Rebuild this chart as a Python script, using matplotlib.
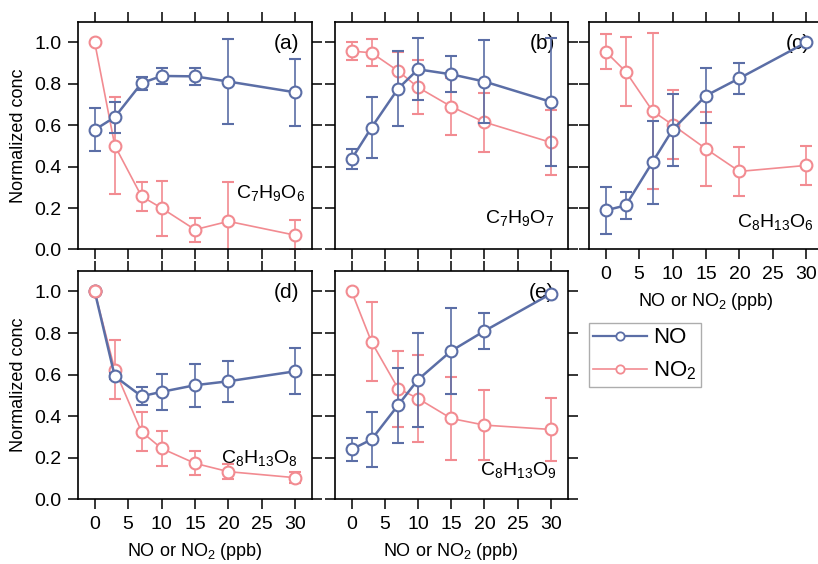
import matplotlib
matplotlib.use("Agg")
import matplotlib.pyplot as plt
from matplotlib.lines import Line2D

plt.rcParams['font.family'] = ['Liberation Sans', 'DejaVu Sans']
plt.rcParams['mathtext.default'] = 'regular'

# NO / NO2 mixing ratios (ppb)
conc = [0, 3, 7, 10, 15, 20, 30]

panel_tags = ['(a)', '(b)', '(c)', '(d)', '(e)']
species = ['C$_7$H$_9$O$_6$', 'C$_7$H$_9$O$_7$', 'C$_8$H$_{13}$O$_6$',
           'C$_8$H$_{13}$O$_8$', 'C$_8$H$_{13}$O$_9$']

# normalized concentration, NO experiments
no_a = [0.578, 0.639, 0.803, 0.838, 0.836, 0.811, 0.759]
no_a_err = [0.104, 0.075, 0.032, 0.037, 0.040, 0.205, 0.163]
no_b = [0.437, 0.589, 0.777, 0.870, 0.846, 0.811, 0.713]
no_b_err = [0.050, 0.149, 0.183, 0.150, 0.087, 0.200, 0.310]
no_c = [0.189, 0.213, 0.422, 0.578, 0.743, 0.827, 1.0]
no_c_err = [0.115, 0.066, 0.200, 0.173, 0.133, 0.074, 0.005]
no_d = [1.0, 0.592, 0.496, 0.517, 0.549, 0.568, 0.616]
no_d_err = [0.005, 0.015, 0.043, 0.088, 0.104, 0.098, 0.110]
no_e = [0.240, 0.288, 0.453, 0.576, 0.714, 0.810, 0.989]
no_e_err = [0.055, 0.132, 0.180, 0.226, 0.207, 0.088, 0.005]

# normalized concentration, NO2 experiments
no2_a = [1.0, 0.502, 0.257, 0.200, 0.096, 0.136, 0.069]
no2_a_err = [0.008, 0.235, 0.070, 0.133, 0.058, 0.190, 0.072]
no2_b = [0.958, 0.950, 0.862, 0.783, 0.690, 0.615, 0.517]
no2_b_err = [0.042, 0.065, 0.090, 0.130, 0.139, 0.142, 0.158]
no2_c = [0.955, 0.859, 0.669, 0.602, 0.486, 0.377, 0.406]
no2_c_err = [0.085, 0.168, 0.377, 0.167, 0.177, 0.120, 0.093]
no2_d = [1.0, 0.624, 0.325, 0.245, 0.173, 0.133, 0.104]
no2_d_err = [0.008, 0.143, 0.094, 0.085, 0.058, 0.035, 0.025]
no2_e = [1.0, 0.757, 0.533, 0.485, 0.389, 0.357, 0.336]
no2_e_err = [0.008, 0.190, 0.183, 0.208, 0.200, 0.170, 0.150]

no_all = [(no_a, no_a_err), (no_b, no_b_err), (no_c, no_c_err),
          (no_d, no_d_err), (no_e, no_e_err)]
no2_all = [(no2_a, no2_a_err), (no2_b, no2_b_err), (no2_c, no2_c_err),
           (no2_d, no2_d_err), (no2_e, no2_e_err)]

blue = '#5b6ea6'
pink = '#f28b91'

W, H = 818, 564
fig = plt.figure(figsize=(W / 100, H / 100), dpi=100)

def px_rect(left, top, right, bottom):
    return [left / W, 1 - bottom / H, (right - left) / W, (bottom - top) / H]

rects = [px_rect(78, 21.7, 312, 249.5),
         px_rect(335, 21.7, 567.5, 249.5),
         px_rect(589, 21.7, 823, 249.5),
         px_rect(78, 270.7, 312, 499.3),
         px_rect(335, 270.7, 567.5, 499.3)]

# where each species label sits (axes fraction)
spec_pos = [(0.97, 0.25), (0.94, 0.14), (0.96, 0.12), (0.94, 0.18), (0.955, 0.13)]

for i in range(5):
    ax = fig.add_axes(rects[i])
    y, e = no2_all[i]
    ax.errorbar(conc, y, yerr=e, fmt='-o', color=pink, lw=1.2, ms=8.5,
                mfc='white', mew=1.5, capsize=4, elinewidth=1.2, capthick=1.2, zorder=2)
    y, e = no_all[i]
    ax.errorbar(conc, y, yerr=e, fmt='-o', color=blue, lw=1.8, ms=8.5,
                mfc='white', mew=1.5, capsize=4, elinewidth=1.2, capthick=1.2, zorder=3)
    if i == 3:
        # NO2 marker sits on top at the shared starting point
        ax.plot(conc[:1], no2_d[:1], 'o', color=pink, ms=8.5, mfc='white', mew=1.5, zorder=4)

    ax.set_xlim(-2.5, 32.5)
    ax.set_ylim(0, 1.1)
    ax.set_xticks([0, 5, 10, 15, 20, 25, 30])
    ax.set_yticks([0, 0.2, 0.4, 0.6, 0.8, 1.0])
    ax.yaxis.set_major_formatter(matplotlib.ticker.FormatStrFormatter('%.1f'))
    ax.tick_params(direction='out', length=7, width=1.1, top=True, right=True,
                   labelsize=14, pad=5)
    for s in ax.spines.values():
        s.set_linewidth(1.2)

    if i in (0, 3):
        ax.set_ylabel('Normalized conc', fontsize=13, labelpad=5)
    else:
        ax.tick_params(labelleft=False)
    if i in (2, 3, 4):
        ax.set_xlabel('NO or NO$_2$ (ppb)', fontsize=13, labelpad=6)
    else:
        ax.tick_params(labelbottom=False)

    ax.text(0.945, 0.905, panel_tags[i], transform=ax.transAxes, fontsize=15,
            ha='right', va='center', zorder=1)
    sx, sy = spec_pos[i]
    ax.text(sx, sy, species[i], transform=ax.transAxes, fontsize=14,
            ha='right', va='center')

handles = [Line2D([], [], color=blue, lw=1.6, marker='o', ms=6, mfc='white', mew=1.3),
           Line2D([], [], color=pink, lw=1.2, marker='o', ms=6, mfc='white', mew=1.3)]
fig.legend(handles, ['NO', 'NO$_2$'], loc='upper left',
           bbox_to_anchor=(589 / W, 1 - 323 / H), fontsize=16, frameon=True,
           fancybox=False, edgecolor='#999999', handlelength=2.4,
           borderpad=0.2, labelspacing=0.5, handletextpad=0.3, borderaxespad=0)

fig.savefig('out.png', dpi=100)
